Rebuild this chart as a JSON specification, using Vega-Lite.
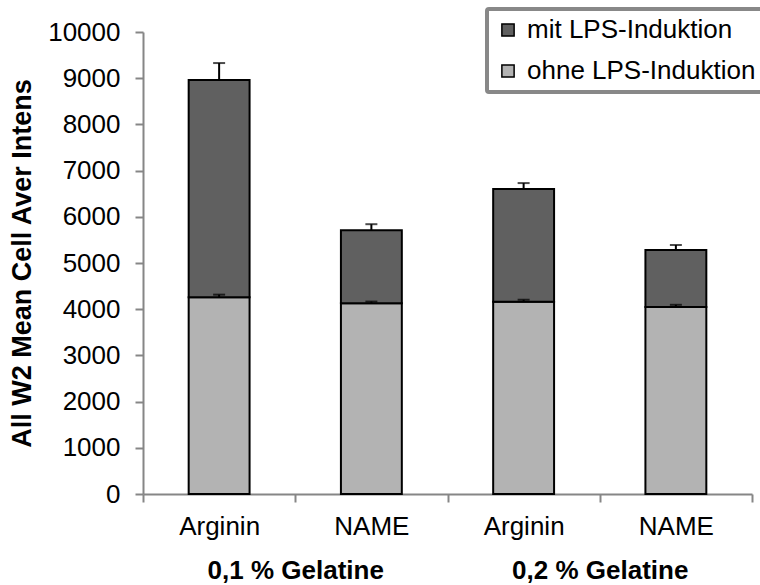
{
  "$schema": "https://vega.github.io/schema/vega-lite/v6.json",
  "width": 609,
  "height": 462,
  "autosize": {"type": "none"},
  "padding": {"left": 143, "top": 32, "right": 8, "bottom": 91},
  "background": "white",
  "config": {
    "view": {"stroke": null},
    "font": "Liberation Sans",
    "legend": {"strokeWidth": 4}
  },
  "data": {
    "values": [
      {"gel": "0,1 % Gelatine", "key": "0,1 % Gelatine|Arginin", "series": "ohne LPS-Induktion", "value": 4260, "err": 55},
      {"gel": "0,1 % Gelatine", "key": "0,1 % Gelatine|Arginin", "series": "mit LPS-Induktion", "value": 4700, "err": 368},
      {"gel": "0,1 % Gelatine", "key": "0,1 % Gelatine|NAME", "series": "ohne LPS-Induktion", "value": 4130, "err": 35},
      {"gel": "0,1 % Gelatine", "key": "0,1 % Gelatine|NAME", "series": "mit LPS-Induktion", "value": 1580, "err": 130},
      {"gel": "0,2 % Gelatine", "key": "0,2 % Gelatine|Arginin", "series": "ohne LPS-Induktion", "value": 4160, "err": 45},
      {"gel": "0,2 % Gelatine", "key": "0,2 % Gelatine|Arginin", "series": "mit LPS-Induktion", "value": 2440, "err": 130},
      {"gel": "0,2 % Gelatine", "key": "0,2 % Gelatine|NAME", "series": "ohne LPS-Induktion", "value": 4050, "err": 45},
      {"gel": "0,2 % Gelatine", "key": "0,2 % Gelatine|NAME", "series": "mit LPS-Induktion", "value": 1230, "err": 110}
    ]
  },
  "transform": [
    {"stack": "value", "groupby": ["key"], "sort": [{"field": "series", "order": "descending"}], "as": ["y0", "y1"]},
    {"calculate": "datum.y1 + datum.err", "as": "hi"}
  ],
  "resolve": {"scale": {"x": "independent"}, "axis": {"x": "independent"}},
  "layer": [
    {
      "encoding": {
        "x": {
          "field": "key", "type": "nominal", "sort": null,
          "scale": {"paddingInner": 0, "paddingOuter": 0},
          "axis": {
            "title": null, "labelExpr": "split(datum.label, '|')[1]", "labelAngle": 0,
            "tickBand": "extent", "tickSize": 8, "tickWidth": 2, "tickColor": "#868686",
            "domainColor": "#868686", "domainWidth": 2,
            "labelPadding": 11, "labelFontSize": 26, "labelFont": "Liberation Sans", "labelColor": "black"
          }
        }
      },
      "layer": [
        {
          "mark": {"type": "bar", "stroke": "black", "strokeWidth": 2, "width": {"band": 0.4}},
          "encoding": {
            "y": {
              "field": "y1", "type": "quantitative",
              "scale": {"domain": [0, 10000], "nice": false},
              "axis": {
                "title": "All W2 Mean Cell Aver Intens", "titleFontSize": 27, "titleFontWeight": "bold",
                "titleFont": "Liberation Sans", "titleColor": "black", "titlePadding": 11,
                "values": [0, 1000, 2000, 3000, 4000, 5000, 6000, 7000, 8000, 9000, 10000],
                "format": "d", "grid": false,
                "labelFontSize": 26, "labelFont": "Liberation Sans", "labelColor": "black", "labelPadding": 15,
                "tickSize": 8, "tickWidth": 2, "tickColor": "#868686", "domainColor": "#868686", "domainWidth": 2
              }
            },
            "y2": {"field": "y0"},
            "color": {
              "field": "series", "type": "nominal",
              "scale": {"domain": ["mit LPS-Induktion", "ohne LPS-Induktion"], "range": ["#606060", "#b3b3b3"]},
              "legend": {
                "title": null, "orient": "none", "legendX": 344, "legendY": -23,
                "symbolType": "square", "symbolSize": 150, "symbolStrokeColor": "black", "symbolStrokeWidth": 1.5,
                "labelFontSize": 26, "labelFont": "Liberation Sans", "labelColor": "black", "labelOffset": 6, "labelLimit": 400,
                "rowPadding": 15, "padding": 8, "strokeColor": "#888888", "cornerRadius": 2, "fillColor": "white"
              }
            }
          }
        },
        {
          "mark": {"type": "rule", "stroke": "black", "strokeWidth": 2},
          "encoding": {"y": {"field": "y1", "type": "quantitative"}, "y2": {"field": "hi"}}
        },
        {
          "mark": {"type": "tick", "color": "black", "thickness": 2, "size": 12},
          "encoding": {"y": {"field": "hi", "type": "quantitative"}}
        }
      ]
    },
    {
      "mark": {"type": "text", "text": ""},
      "encoding": {
        "x": {
          "field": "gel", "type": "nominal", "sort": null,
          "scale": {"paddingInner": 0, "paddingOuter": 0},
          "axis": {
            "title": null, "orient": "bottom", "ticks": false, "tickSize": 0, "domain": false, "labelAngle": 0,
            "labelPadding": 63, "labelFontSize": 26, "labelFontWeight": "bold", "labelFont": "Liberation Sans", "labelColor": "black"
          }
        }
      }
    }
  ]
}
